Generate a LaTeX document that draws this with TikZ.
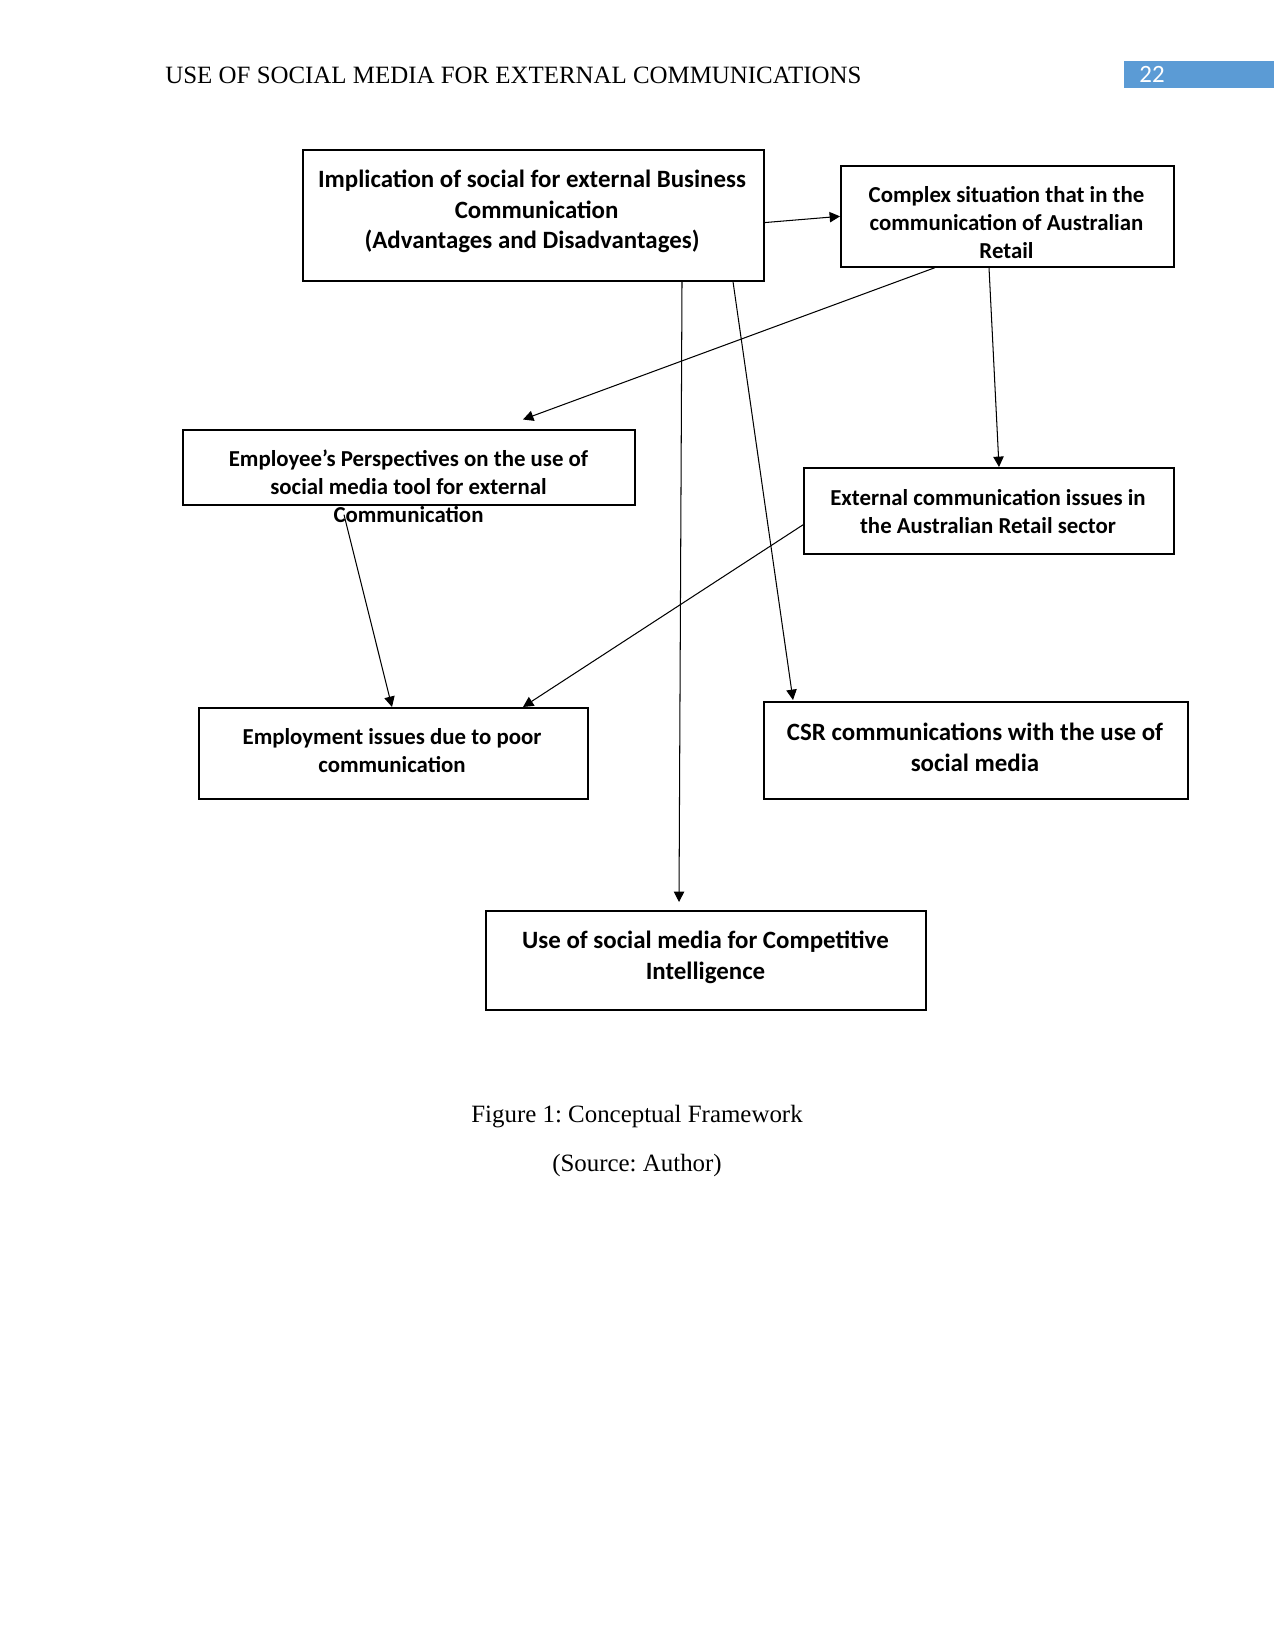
\documentclass[tikz,border=0pt]{standalone}
\usepackage{fontspec}
\setmainfont{Liberation Serif}
\newfontfamily\calfont{Carlito}
\usetikzlibrary{arrows.meta}
\definecolor{hdrblue}{HTML}{5B9BD5}
\frenchspacing
\newcommand\bx[5]{\node[box,minimum width=#4*0.4818pt,minimum height=#5*0.4818pt] (#1) at (#2,#3) {};}
\begin{document}
\begin{tikzpicture}[x=0.4818pt,y=-0.4818pt,
  box/.style={draw,line width=0.8pt,inner sep=0pt,anchor=north west},
  tbig/.style={font=\calfont\bfseries\fontsize{12}{14.8}\selectfont,align=center,inner sep=0pt},
  tsmall/.style={font=\calfont\bfseries\fontsize{11}{13.5}\selectfont,align=center,inner sep=0pt},
  conn/.style={-{Triangle[length=5pt,width=5pt]},line width=0.5pt}]
\useasboundingbox (0,0) rectangle (1275,1651);
% header
\node[anchor=base west,inner sep=0pt,font=\fontsize{12}{14}\selectfont] (hdr) at (165,84) {USE OF SOCIAL MEDIA FOR EXTERNAL COMMUNICATIONS};
\fill[hdrblue] (1124,61) rectangle (1274,88);
\node[anchor=base west,inner sep=0pt,text=white,font=\calfont\fontsize{12}{14}\selectfont] (pg) at (1139,83) {22};
% boxes
\bx{b1}{302}{149.5}{461}{130.5}
\bx{b2}{840}{165}{333}{101}
\bx{b3}{182}{429.5}{452}{74.5}
\bx{b4}{803}{467}{370}{86}
\bx{b5}{198}{707}{389}{91}
\bx{b6}{763}{701}{424}{97}
\bx{b7}{485}{910}{440}{99}
% texts
\node[tbig] (t1) at (532,211.5) {Implication of social for external Business\\\hspace*{4.4pt}Communication\\(Advantages and Disadvantages)};
\node[tsmall] (t2) at (1006.5,222.5) {Complex situation that in the\\communication of Australian\\Retail};
\node[tsmall] (t3) at (408.5,486.5) {Employee’s Perspectives on the use of\\social media tool for external\\Communication};
\node[tsmall] (t4) at (988,511.5) {External communication issues in\\the Australian Retail sector};
\node[tsmall] (t5) at (392,751) {Employment issues due to poor\\communication};
\node[tbig] (t6) at (975,747) {CSR communications with the use of\\social media};
\node[tbig] (t7) at (705.5,957.5) {Use of social media for Competitive\\Intelligence};
% connectors
\draw[conn] ([shift={(0,7)}]b1.east) -- (b2.west);
\draw[conn] ([shift={(95,0)}]b2.south west) -- ([shift={(341,-10)}]b3.north west);
\draw[conn] ([shift={(149,0)}]b2.south west) -- ([shift={(196,0)}]b4.north west);
\draw[conn] ([shift={(380,0)}]b1.south west) -- ([shift={(194,-8)}]b7.north west);
\draw[conn] ([shift={(431,0)}]b1.south west) -- ([shift={(30,-1)}]b6.north west);
\draw[conn] ([shift={(162,9)}]b3.south west) -- ([shift={(194,0)}]b5.north west);
\draw[conn] ([shift={(0,14)}]b4.west) -- ([shift={(325,0)}]b5.north west);
% caption
\node[anchor=base,inner sep=0pt,font=\fontsize{12}{14}\selectfont] (cap) at (637,1122) {Figure 1: Conceptual Framework};
\node[anchor=base,inner sep=0pt,font=\fontsize{12}{14}\selectfont] (src) at (637,1171) {(Source: Author)};
\end{tikzpicture}
\end{document}
